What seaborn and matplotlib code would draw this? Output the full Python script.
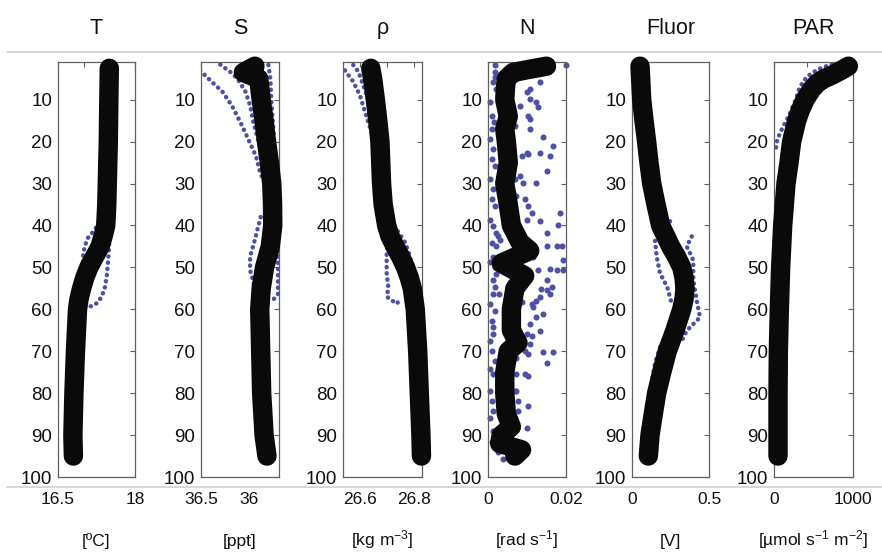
import matplotlib
matplotlib.use("Agg")
import matplotlib.pyplot as plt
import seaborn as sns
from matplotlib.lines import Line2D

sns.set_style("white")
plt.rcParams["font.family"] = ["Liberation Sans", "DejaVu Sans"]
plt.rcParams["mathtext.fontset"] = "custom"
plt.rcParams["mathtext.rm"] = "Liberation Sans"
plt.rcParams["mathtext.default"] = "regular"

# ---------------- data (depth in m) ----------------
# Temperature
t_depth = [2.5, 10, 20, 30, 35, 40, 42.5, 45, 47.5, 50, 52.5, 55, 57.5, 60, 65, 70, 80, 90, 95]
t_val = [17.50, 17.49, 17.48, 17.46, 17.45, 17.43, 17.38, 17.32, 17.21, 17.10, 17.02, 16.96, 16.91, 16.88, 16.86,
         16.84, 16.81, 16.79, 16.80]
t_blue_a_depth = [38, 41, 43, 45, 47, 50, 53, 56]
t_blue_a_val = [17.36, 17.22, 17.08, 17.02, 16.99, 16.99, 17.01, 16.95]
t_blue_b_depth = [40, 44, 48, 52, 55, 57, 58.5, 59.3, 59]
t_blue_b_val = [17.45, 17.50, 17.48, 17.45, 17.41, 17.35, 17.26, 17.15, 17.05]

# Salinity
s_depth = [2, 3.5, 5, 10, 15, 20, 25, 30, 35, 40, 45, 50, 55, 60, 70, 80, 90, 95]
s_val = [35.94, 36.06, 35.90, 35.875, 35.845, 35.82, 35.79, 35.765, 35.757, 35.755, 35.78, 35.84, 35.875, 35.89,
         35.88, 35.87, 35.845, 35.815]
s_blue1_depth = [3, 5.7, 8, 11.4, 15.4, 19.4, 23.4, 27.4, 32]
s_blue1_val = [36.51, 36.39, 36.28, 36.18, 36.09, 36.01, 35.93, 35.885, 35.80]
s_blue2_depth = [1.6, 3.3, 5, 8, 11.4, 15.4, 19.4, 24]
s_blue2_val = [36.30, 36.20, 36.12, 36.04, 35.99, 35.955, 35.91, 35.85]
s_blue3_depth = [1.7, 5, 10, 20]
s_blue3_val = [35.80, 35.78, 35.77, 35.74]
s_blue4_depth = [38, 40.6, 43.4, 46.6, 48, 50.7, 53, 55.5, 59.5, 62]
s_blue4_val = [35.88, 35.91, 35.94, 35.98, 35.99, 35.99, 35.96, 35.94, 35.955, 35.93]
s_blue5_depth = [40, 44, 47.4, 51.4, 56.3, 58]
s_blue5_val = [35.72, 35.70, 35.70, 35.70, 35.70, 35.76]

# Density
r_depth = [2.5, 5, 10, 15, 20, 25, 30, 35, 40, 42.5, 45, 47.5, 50, 52.5, 55, 60, 70, 80, 90, 95]
r_val = [26.640, 26.647, 26.657, 26.666, 26.674, 26.677, 26.680, 26.686, 26.699, 26.711, 26.730, 26.751, 26.769,
         26.783, 26.794, 26.805, 26.814, 26.820, 26.826, 26.828]
r_blue1_depth = [3, 5.7, 9, 13, 16.2, 20]
r_blue1_val = [26.544, 26.575, 26.600, 26.619, 26.635, 26.655]
r_blue2_depth = [1.7, 3.3, 6.5, 10]
r_blue2_val = [26.575, 26.594, 26.612, 26.630]
r_blue3_depth = [40, 41, 44, 47.4, 51.4, 54]
r_blue3_val = [26.700, 26.736, 26.767, 26.785, 26.800, 26.800]
r_blue4_depth = [44, 46.6, 51.4, 54.7, 57, 58.7, 57.5]
r_blue4_val = [26.705, 26.699, 26.699, 26.705, 26.700, 26.736, 26.750]

# Buoyancy frequency
n_depth = [2, 2.8, 3.5, 5, 7, 10, 14, 17, 20, 25, 30, 35, 40, 44, 46, 49, 52, 55, 60, 65, 68, 70, 75, 80, 85, 88, 90, 92, 93.5, 95]
n_val = [0.0150, 0.0103, 0.0064, 0.0047, 0.0045, 0.0043, 0.0052, 0.0043, 0.0047, 0.0052, 0.0043, 0.0052, 0.0060, 0.0082,
         0.0107, 0.0034, 0.0094, 0.0069, 0.0060, 0.0060, 0.0077, 0.0052, 0.0043, 0.0043, 0.0047, 0.0060, 0.0034, 0.0030,
         0.0086, 0.0069]
n_pts_depth = [1.7, 5.7, 7.4, 10.6, 11.8, 14.6, 17.0, 19.0, 21.0, 23.4, 27.0, 22.6, 22.6, 23.4, 23.0, 29.8, 29.8, 28.2,
               33.8, 35.4, 33.0, 37.0, 38.6, 37.0, 39.8, 39.0, 41.8, 45.0, 45.0, 45.0, 45.8, 47.4, 48.3, 50.7, 50.3, 50.7,
               50.7, 53.1, 54.7, 55.1, 55.5, 57.1, 57.9, 56.3, 58.7, 61.1, 61.9, 59.5, 63.5, 65.9, 65.1, 66.3, 68.3, 69.9,
               70.7, 70.3, 70.3, 72.7, 75.9, 83.1, 79.5, 84.3, 88.3, 88.3,
               1.7, 3.3, 5.7, 10.6, 9.0, 17.0, 19.4, 21.8, 24.2, 25.8, 29.0, 31.4, 33.8, 35.4, 38.6, 40.2, 41.8, 44.2,
               47.4, 48.7, 51.5, 53.1, 54.7, 56.3, 58.7, 60.3, 62.7, 64.3, 65.9, 67.5, 69.9, 72.3, 74.3, 75.5, 79.5,
               81.9, 84.3, 85.9, 89.1, 91.6, 94.0, 95.6,
               29.0, 32.2, 38.6, 41.0, 43.4, 46.6, 51.5, 56.3, 58.3, 61.1, 64.3, 67.5, 71.5, 75.5, 79.5, 83.5, 81.9, 75.5,
               5.0, 8.2, 11.4, 9.8, 13.8, 16.2, 4.5, 7.4, 13.8, 15.4, 42.6, 45.0, 43.4, 49.9, 56.3]
n_pts_val = [0.0200, 0.0133, 0.0107, 0.0124, 0.0129, 0.0107, 0.0107, 0.0142, 0.0167, 0.0159, 0.0150, 0.0133, 0.0099,
             0.0086, 0.0103, 0.0124, 0.0090, 0.0082, 0.0094, 0.0103, 0.0073, 0.0112, 0.0099, 0.0184, 0.0180, 0.0133,
             0.0150, 0.0176, 0.0189, 0.0150, 0.0120, 0.0116, 0.0193, 0.0129, 0.0159, 0.0176, 0.0193, 0.0150, 0.0163,
             0.0137, 0.0150, 0.0133, 0.0124, 0.0159, 0.0112, 0.0142, 0.0124, 0.0116, 0.0107, 0.0099, 0.0133, 0.0112,
             0.0107, 0.0094, 0.0103, 0.0142, 0.0167, 0.0150, 0.0103, 0.0103, 0.0073, 0.0077, 0.0073, 0.0099,
             0.0017, 0.0017, 0.0013, 0.0004, 0.0026, 0.0009, 0.0004, 0.0013, 0.0009, 0.0017, 0.0004, 0.0013, 0.0009,
             0.0017, 0.0004, 0.0013, 0.0021, 0.0009, 0.0013, 0.0004, 0.0021, 0.0013, 0.0017, 0.0013, 0.0004, 0.0017,
             0.0009, 0.0013, 0.0013, 0.0004, 0.0009, 0.0017, 0.0004, 0.0013, 0.0004, 0.0009, 0.0013, 0.0004, 0.0013,
             0.0009, 0.0026, 0.0039,
             0.0069, 0.0064, 0.0073, 0.0082, 0.0086, 0.0082, 0.0073, 0.0073, 0.0086, 0.0073, 0.0069, 0.0064, 0.0073,
             0.0073, 0.0069, 0.0060, 0.0077, 0.0094,
             0.0073, 0.0099, 0.0082, 0.0107, 0.0103, 0.0069, 0.0017, 0.0021, 0.0011, 0.0015, 0.0026, 0.0021, 0.0030,
             0.0017, 0.0028]

# Fluorescence
f_depth = [2, 10, 15, 20, 25, 30, 35, 40, 45, 47.5, 50, 52.5, 55, 57.5, 60, 65, 70, 75, 80, 85, 90, 95]
f_val = [0.052, 0.063, 0.078, 0.095, 0.110, 0.128, 0.156, 0.186, 0.251, 0.290, 0.323, 0.338, 0.344, 0.338, 0.323,
         0.279, 0.229, 0.193, 0.160, 0.138, 0.117, 0.106]
f_blue1_depth = [39, 43.4, 47.4, 51.4, 54.7, 58.7]
f_blue1_val = [0.247, 0.149, 0.160, 0.182, 0.229, 0.258]
f_blue2_depth = [42.6, 45, 46.6, 48.3, 53.1, 57.9, 61.9, 65.1, 68.3]
f_blue2_val = [0.388, 0.355, 0.377, 0.398, 0.398, 0.420, 0.442, 0.355, 0.312]
f_blue3_depth = [69, 73, 79.5, 84]
f_blue3_val = [0.182, 0.149, 0.117, 0.100]

# PAR
p_depth = [2, 3, 4, 5, 6, 7.5, 10, 12.5, 15, 20, 25, 30, 40, 50, 60, 70, 80, 95]
p_val = [1129, 1020, 900, 760, 660, 572, 471, 400, 344, 268, 228, 182, 132, 101, 81, 66, 61, 61]
p_blue_depth = [1.5, 2.8, 4.5, 7, 10, 14, 17, 19.5, 22]
p_blue_val = [880, 660, 500, 390, 330, 220, 120, 50, 25]

titles = ["T", "S", "ρ", "N", "Fluor", "PAR"]
units = ["[ºC]", "[ppt]", "[kg m$^{-3}$]", "[rad s$^{-1}$]", "[V]", "[µmol s$^{-1}$ m$^{-2}$]"]
xlims = [(16.5, 18), (36.5, 35.69), (26.537, 26.83), (0, 0.02), (0, 0.5), (0, 1200)]
major_ticks = [[16.5, 18], [36.5, 36.0], [26.6, 26.8], [0, 0.02], [0, 0.5], [0, 1200]]
major_labels = [["16.5", "18"], ["36.5", "36"], ["26.6", "26.8"], ["0", "0.02"], ["0", "0.5"], ["0", "1000"]]
minor_ticks = [[17, 17.5], [], [26.7], [0.01], [], [500, 1000]]
depth_ticks = [10, 20, 30, 40, 50, 60, 70, 80, 90, 100]

black_profiles = [(t_val, t_depth), (s_val, s_depth), (r_val, r_depth), (n_val, n_depth), (f_val, f_depth), (p_val, p_depth)]
blue_traces = [
    [(t_blue_a_val, t_blue_a_depth), (t_blue_b_val, t_blue_b_depth)],
    [(s_blue1_val, s_blue1_depth), (s_blue2_val, s_blue2_depth), (s_blue3_val, s_blue3_depth),
     (s_blue4_val, s_blue4_depth), (s_blue5_val, s_blue5_depth)],
    [(r_blue1_val, r_blue1_depth), (r_blue2_val, r_blue2_depth), (r_blue3_val, r_blue3_depth), (r_blue4_val, r_blue4_depth)],
    [],
    [(f_blue1_val, f_blue1_depth), (f_blue2_val, f_blue2_depth), (f_blue3_val, f_blue3_depth)],
    [(p_blue_val, p_blue_depth)],
]

# ---------------- layout ----------------
W, H = 882, 554
BLACK = "#0a0a0a"
BLUE = "#4f4fa6"
SPINE = "#606060"

fig = plt.figure(figsize=(W / 100, H / 100), dpi=100)
lefts = [58, 201, 343, 488, 632, 774]
widths = [77, 78, 79, 78, 77, 79]
top_px, bot_px = 62, 477

for i in range(6):
    ax = fig.add_axes([lefts[i] / W, 1 - bot_px / H, widths[i] / W, (bot_px - top_px) / H])
    for vals, deps in blue_traces[i]:
        sns.lineplot(x=vals, y=deps, ax=ax, sort=False, estimator=None, orient="y", color=BLUE,
                     linewidth=3.2, linestyle=(0, (0.05, 1.35)), dash_capstyle="round", zorder=2)
    if i == 3:
        sns.scatterplot(x=n_pts_val, y=n_pts_depth, ax=ax, s=19, color=BLUE, linewidth=0, zorder=2, clip_on=False)
    vals, deps = black_profiles[i]
    sns.lineplot(x=vals, y=deps, ax=ax, sort=False, estimator=None, orient="y", color=BLACK,
                 linewidth=14, solid_capstyle="round", solid_joinstyle="round", zorder=3, clip_on=False)

    ax.set_xlim(*xlims[i])
    ax.set_ylim(100, 1)
    ax.set_yticks(depth_ticks)
    ax.set_yticklabels([str(d) for d in depth_ticks])
    ax.set_xticks(major_ticks[i])
    ax.set_xticklabels(major_labels[i])
    ax.set_xticks(minor_ticks[i], minor=True)
    ax.tick_params(which="both", direction="in", top=True, right=True, color=SPINE, width=0.8, length=3.5,
                   labelcolor="#111111")
    ax.tick_params(axis="x", which="major", pad=11, labelsize=12.5)
    ax.tick_params(axis="y", which="major", pad=4, labelsize=13.5)
    ax.tick_params(axis="y", which="minor", left=False, right=False)
    for sp in ax.spines.values():
        sp.set_visible(True)
        sp.set_color(SPINE)
        sp.set_linewidth(0.9)
    ax.set_ylabel("")
    ax.set_xlabel(units[i], fontsize=12.5, color="#111111", va="baseline")
    ax.xaxis.set_label_coords(0.5, -0.166)
    ax.set_title(titles[i], fontsize=15.5, pad=20, color="#111111")
    ax.set_facecolor("white")

# thin grey frame lines of the original screenshot
for ypx in (52, 487):
    fig.add_artist(Line2D([7 / W, 1.0], [1 - ypx / H, 1 - ypx / H], transform=fig.transFigure,
                          color="#d4d4d4", linewidth=1.3, zorder=0))

fig.savefig("out.png", dpi=100, facecolor="white")
